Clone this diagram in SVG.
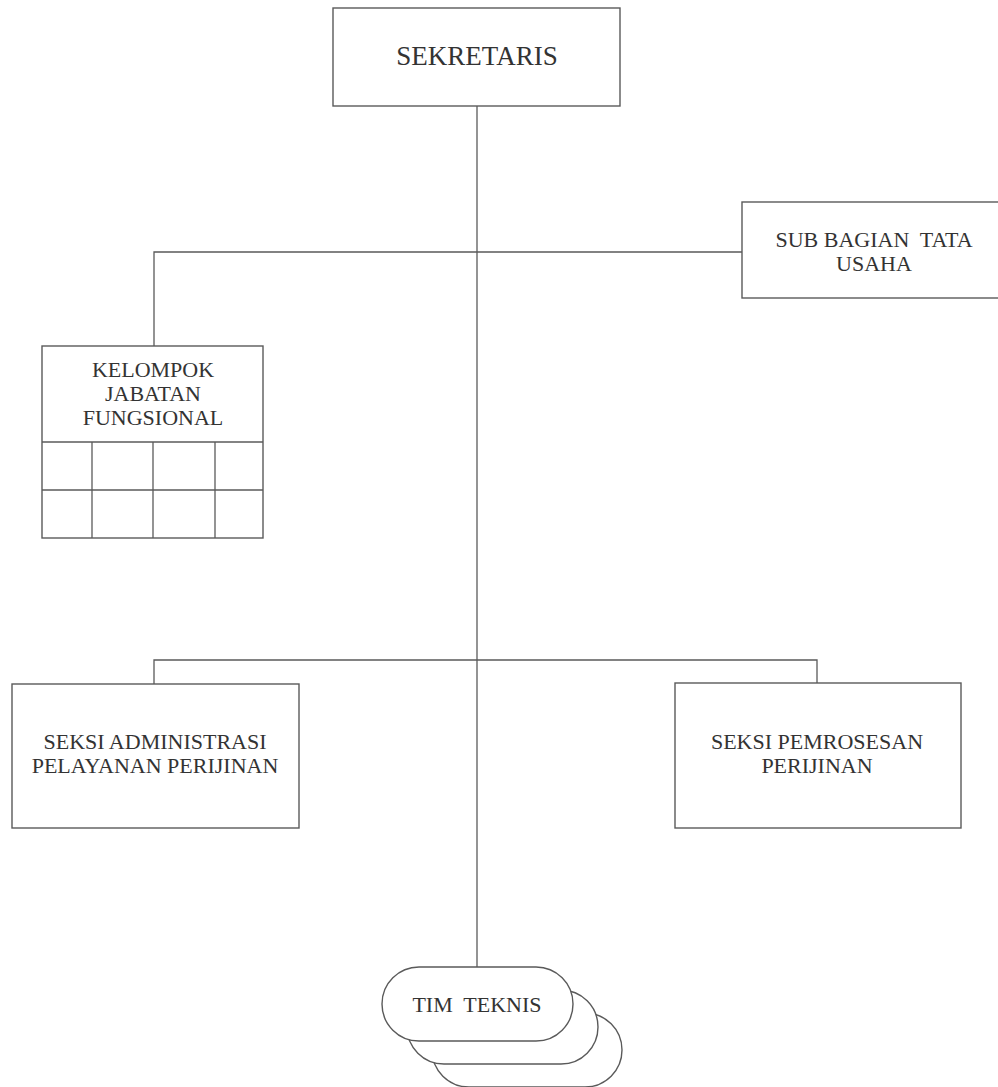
<svg xmlns="http://www.w3.org/2000/svg" width="998" height="1087" viewBox="0 0 998 1087">
<style>
.box{fill:#fff;stroke:#5a5a5a;stroke-width:1.4}
.ln{fill:none;stroke:#5a5a5a;stroke-width:1.3}
text{font-family:"Liberation Serif","Times New Roman",serif;fill:#333;text-anchor:middle;font-size:22px}
.big{font-size:27px}
</style>
<rect width="998" height="1087" fill="#fff"/>
<g id="connectors">
<line class="ln" x1="477" y1="106" x2="477" y2="967"/>
<polyline class="ln" points="154,346 154,252 742,252"/>
<polyline class="ln" points="154,684 154,660 817,660 817,683"/>
</g>
<g id="sekretaris">
<rect class="box" x="333" y="8" width="287" height="98"/>
<text class="big" x="477" y="65">SEKRETARIS</text>
</g>
<g id="sub-bagian">
<rect class="box" x="742" y="202" width="262" height="96"/>
<text x="874" y="247">SUB BAGIAN&#160; TATA</text>
<text x="874" y="271">USAHA</text>
</g>
<g id="kelompok">
<rect class="box" x="42" y="346" width="221" height="192"/>
<line class="ln" x1="42" y1="442" x2="263" y2="442"/>
<line class="ln" x1="42" y1="490" x2="263" y2="490"/>
<line class="ln" x1="92" y1="442" x2="92" y2="538"/>
<line class="ln" x1="153" y1="442" x2="153" y2="538"/>
<line class="ln" x1="215" y1="442" x2="215" y2="538"/>
<text x="153" y="377">KELOMPOK</text>
<text x="153" y="401">JABATAN</text>
<text x="153" y="425">FUNGSIONAL</text>
</g>
<g id="seksi-admin">
<rect class="box" x="12" y="684" width="287" height="144"/>
<text x="155" y="749">SEKSI ADMINISTRASI</text>
<text x="155" y="773">PELAYANAN PERIJINAN</text>
</g>
<g id="seksi-pemrosesan">
<rect class="box" x="675" y="683" width="286" height="145"/>
<text x="817" y="749">SEKSI PEMROSESAN</text>
<text x="817" y="773">PERIJINAN</text>
</g>
<g id="tim-teknis">
<rect class="box" x="432" y="1013" width="190" height="74" rx="37" ry="37"/>
<rect class="box" x="407" y="990" width="191" height="74" rx="37" ry="37"/>
<rect class="box" x="382" y="967" width="191" height="74" rx="37" ry="37"/>
<text x="477" y="1012">TIM&#160; TEKNIS</text>
</g>
</svg>
